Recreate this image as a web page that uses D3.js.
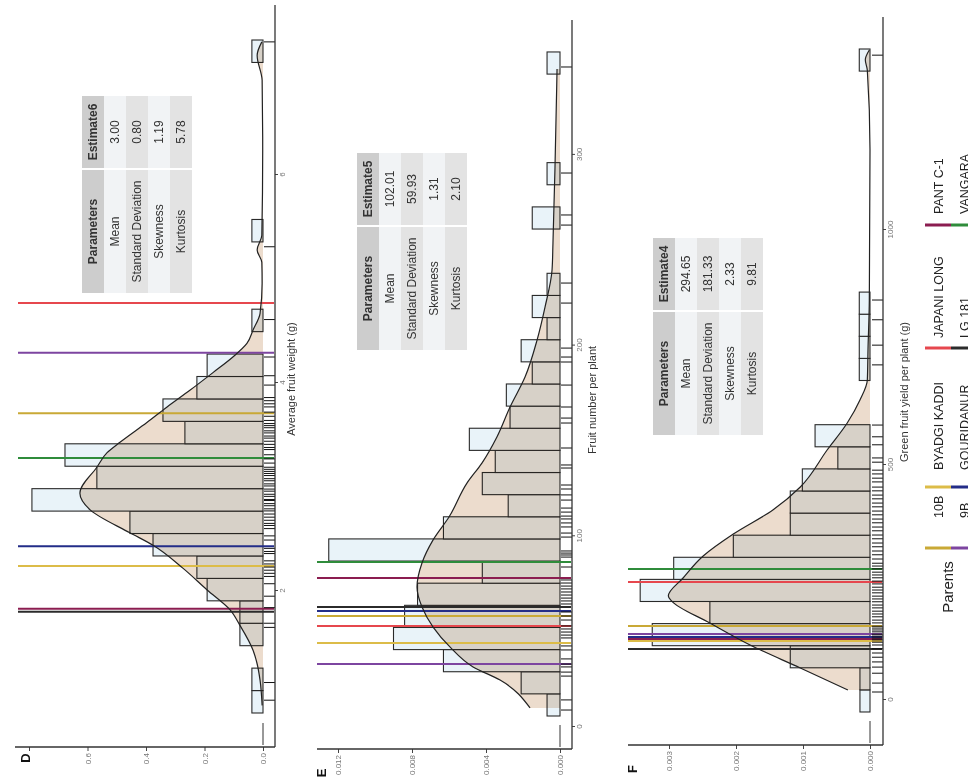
<!DOCTYPE html>
<html>
<head>
<meta charset="utf-8">
<script src="https://cdn.jsdelivr.net/npm/d3@7"></script>
<style>
  body { margin: 0; background: #fff; }
  svg { display: block; font-family: "Liberation Sans", Arial, sans-serif; }
</style>
</head>
<body>
<div id="chart"></div>
<script>
// parents shown as vertical reference lines
var parents = ['10B', '9B', 'BYADGI KADDI', 'GOURIDANUR', 'JAPANI LONG', 'LG 181', 'PANT C-1', 'VANGARA'];
var parentColors = ['#c9a936', '#7d45a0', '#dcbc48', '#232d88', '#e6474e', '#2b2b2b', '#8b1d50', '#2f8c3b'];
var statNames = ['Mean', 'Standard Deviation', 'Skewness', 'Kurtosis'];

// D - average fruit weight
var weightDensity = [0.038, 0.038, 0, 0.079, 0.079, 0.191, 0.226, 0.376, 0.455, 0.79, 0.568, 0.677, 0.267, 0.342, 0.226,
    0.191, 0, 0.038, 0, 0, 0, 0.038, 0, 0, 0, 0, 0, 0, 0, 0.038];
var weightBinStart = 0.827, weightBinWidth = 0.2157;
var weightCurve = [[0.90, 0.003], [1.14, 0.010], [1.31, 0.021], [1.43, 0.034], [1.67, 0.079], [1.82, 0.113], [2.01, 0.191],
    [2.22, 0.274], [2.44, 0.376], [2.56, 0.455], [2.78, 0.591], [2.94, 0.626], [3.19, 0.568], [3.33, 0.533], [3.43, 0.489],
    [3.62, 0.397], [3.77, 0.328], [3.93, 0.250], [4.10, 0.171], [4.25, 0.103], [4.38, 0.055], [4.51, 0.034], [4.67, 0.010],
    [4.96, 0.003], [5.16, 0.004], [5.28, 0.020], [5.42, 0.004], [6.24, 0.001], [6.91, 0.003], [7.15, 0.020], [7.28, 0.004]];
var weightRug = [0.95, 1.12, 1.65, 1.69, 1.84, 1.95, 2.07, 2.14, 2.17, 2.20, 2.23, 2.26, 2.29, 2.36, 2.38, 2.41, 2.49, 2.53,
    2.60, 2.63, 2.65, 2.68, 2.71, 2.74, 2.77, 2.79, 2.82, 2.84, 2.87, 2.88, 2.91, 2.93, 2.96, 2.98, 3.01, 3.03, 3.06, 3.08,
    3.11, 3.13, 3.15, 3.17, 3.19, 3.23, 3.27, 3.31, 3.36, 3.38, 3.41, 3.44, 3.47, 3.49, 3.52, 3.54, 3.57, 3.59, 3.61, 3.64,
    3.68, 3.72, 3.77, 3.80, 3.83, 3.86, 3.98, 4.07, 4.25, 4.61, 5.31, 7.28];
var weightParents = [3.71, 4.29, 2.24, 2.43, 4.77, 1.80, 1.83, 3.28];
var weightStats = ['3.00', '0.80', '1.19', '5.78'];
var weightTicks = [2, 4, 6];
var weightDensityTicks = [0, 0.2, 0.4, 0.6, 0.8];

// E - fruit number per plant
var numberDensity = [0.0007, 0.0021, 0.0063, 0.0090, 0.0084, 0.0077, 0.0042, 0.0125, 0.0063, 0.0028, 0.0042, 0.0035,
    0.0049, 0.0027, 0.0029, 0.0015, 0.0021, 0.0007, 0.0015, 0.0007, 0, 0, 0.0015, 0, 0.0007, 0, 0, 0, 0, 0.0007];
var numberBinStart = 5.77, numberBinWidth = 11.607;
var numberCurve = [[10.0, 0.00162], [24.6, 0.00324], [31.5, 0.00470], [42.0, 0.00595], [52.4, 0.00686], [62.9, 0.00746],
    [73.4, 0.00773], [86.0, 0.00746], [98.1, 0.00686], [110.1, 0.00600], [127.9, 0.00503], [138.4, 0.00422],
    [152.1, 0.00341], [167.8, 0.00270], [183.5, 0.00189], [202.9, 0.00124], [220.2, 0.00081], [239.6, 0.00043],
    [253.8, 0.00038], [293.7, 0.00027], [345.0, 0.00016]];
var numberRug = [8.9, 14.2, 26.7, 28.8, 31.5, 33.0, 35.7, 40.4, 42.5, 46.7, 48.2, 49.8, 51.4, 53.0, 56.1, 58.2, 60.3, 64.5,
    66.1, 67.6, 69.2, 70.8, 72.4, 73.9, 75.5, 77.1, 83.9, 89.1, 90.2, 91.2, 92.3, 99.6, 101.7, 104.9, 107.0, 109.1, 110.6,
    112.7, 114.8, 119.0, 121.7, 124.8, 126.9, 135.8, 137.4, 146.3, 159.4, 162.0, 167.8, 179.3, 191.4, 194.0, 198.7,
    222.3, 232.8, 263.2, 268.5, 290.5, 346.1];
var numberParents = [58.2, 33.0, 44.0, 60.8, 53.0, 62.9, 78.1, 86.5];
var numberStats = ['102.01', '59.93', '1.31', '2.10'];
var numberTicks = [0, 100, 200, 300];
var numberDensityTicks = [0, 0.004, 0.008, 0.012];

// F - green fruit yield per plant
var yieldDensity = [0.00015, 0.00015, 0.00119, 0.00325, 0.00239, 0.00343, 0.00293, 0.00204, 0.00119, 0.00119, 0.00101,
    0.00048, 0.00082, 0, 0, 0.00016, 0.00016, 0.00016, 0.00016, 0, 0, 0, 0, 0, 0, 0, 0, 0, 0, 0.00016];
var yieldBinStart = -25.5, yieldBinWidth = 47.02;
var yieldCurve = [[21.3, 0.00033], [68.1, 0.00104], [117.0, 0.00179], [163.8, 0.00239], [210.6, 0.00296], [221.3, 0.00301],
    [259.6, 0.00279], [306.4, 0.00249], [353.2, 0.00204], [404.3, 0.00145], [453.2, 0.00104], [531.9, 0.00064],
    [589.4, 0.00034], [638.3, 0.00015], [680.9, 0.00004], [744.7, 0.00003], [851.1, 0.00001], [1170, 0], [1340, 0.00004],
    [1362, 0.00007], [1383, 0.00001]];
var yieldRug = [17, 36, 57, 70, 81, 91, 100, 109, 117, 123, 128, 132, 136, 140, 145, 149, 153, 157, 164, 170, 177, 183, 189,
    196, 202, 209, 215, 221, 228, 234, 240, 247, 253, 260, 266, 272, 279, 285, 291, 300, 309, 317, 326, 334, 343, 351,
    360, 368, 377, 385, 394, 402, 411, 419, 428, 436, 445, 453, 464, 472, 481, 489, 506, 515, 543, 560, 585, 713, 755,
    809, 851, 1372];
var yieldParents = [157.4, 140.4, 125.5, 134.0, 251.1, 108.5, 129.8, 278.7];
var yieldStats = ['294.65', '181.33', '2.33', '9.81'];
var yieldTicks = [0, 500, 1000];
var yieldDensityTicks = [0, 0.001, 0.002, 0.003];

// the figure is drawn upright (780 wide, 968 tall) and turned a quarter left
var svg = d3.select('#chart').append('svg')
    .attr('width', 968)
    .attr('height', 780);

var g = svg.append('g')
    .attr('transform', 'translate(0,780) rotate(-90)');

var panels = [
    {
        label: 'D', density: weightDensity, binStart: weightBinStart, binWidth: weightBinWidth, curve: weightCurve,
        rug: weightRug, parentVals: weightParents, stats: weightStats, header: 'Estimate6',
        title: 'Average fruit weight (g)', xTicks: weightTicks, yTicks: weightDensityTicks, fmt: '.1f',
        xDomain: [2, 6], xRange: [189, 605], yDomain: [0, 0.8], yRange: [263, 29],
        base: 275, left: 33, xEnd: 775, top: 15, lineTop: 18, labelX: 22, labelY: 30,
        titleX: 401, titleDy: 20, table: [487, 82], hideTop: true
    },
    {
        label: 'E', density: numberDensity, binStart: numberBinStart, binWidth: numberBinWidth, curve: numberCurve,
        rug: numberRug, parentVals: numberParents, stats: numberStats, header: 'Estimate5',
        title: 'Fruit number per plant', xTicks: numberTicks, yTicks: numberDensityTicks, fmt: '.3f',
        xDomain: [0, 300], xRange: [53, 625.1], yDomain: [0, 0.012], yRange: [560, 338],
        base: 572, left: 31, xEnd: 760, top: 317, lineTop: 317, labelX: 7, labelY: 326,
        titleX: 380, titleDy: 24, table: [430, 357], hideTop: false
    },
    {
        label: 'F', density: yieldDensity, binStart: yieldBinStart, binWidth: yieldBinWidth, curve: yieldCurve,
        rug: yieldRug, parentVals: yieldParents, stats: yieldStats, header: 'Estimate4',
        title: 'Green fruit yield per plant (g)', xTicks: yieldTicks, yTicks: yieldDensityTicks, fmt: '.3f',
        xDomain: [0, 1000], xRange: [80, 550], yDomain: [0, 0.003], yRange: [870, 669],
        base: 883, left: 35, xEnd: 763, top: 628, lineTop: 628, labelX: 11, labelY: 637,
        titleX: 388, titleDy: 25, table: [345, 653], hideTop: false
    }
];

panels.forEach(function (p) {
    var x = d3.scaleLinear().domain(p.xDomain).range(p.xRange);
    var y = d3.scaleLinear().domain(p.yDomain).range(p.yRange);
    var pg = g.append('g');

    // histogram
    var bars = p.density.map(function (d, i) {
        return { x0: p.binStart + i * p.binWidth, x1: p.binStart + (i + 1) * p.binWidth, d: d };
    }).filter(function (b) { return b.d > 0; });

    pg.selectAll('rect.bar')
        .data(bars)
        .join('rect')
        .attr('class', 'bar')
        .attr('x', function (b) { return x(b.x0); })
        .attr('width', function (b) { return x(b.x1) - x(b.x0); })
        .attr('y', function (b) { return y(b.d); })
        .attr('height', function (b) { return y(0) - y(b.d); })
        .attr('fill', '#e9f3f9')
        .attr('stroke', '#2a2a2a')
        .attr('stroke-width', 1.1);

    // density area, blended over the bars
    var area = d3.area()
        .x(function (c) { return x(c[0]); })
        .y0(y(0))
        .y1(function (c) { return y(c[1]); })
        .curve(d3.curveMonotoneX);

    pg.append('path')
        .datum(p.curve)
        .attr('d', area)
        .attr('fill', '#ecdccd')
        .style('mix-blend-mode', 'multiply');

    // parent reference lines
    pg.selectAll('line.parent')
        .data(p.parentVals)
        .join('line')
        .attr('class', 'parent')
        .attr('x1', function (v) { return x(v); })
        .attr('x2', function (v) { return x(v); })
        .attr('y1', p.lineTop)
        .attr('y2', p.base - 1)
        .attr('stroke', function (v, i) { return parentColors[i]; })
        .attr('stroke-width', 2);

    var line = d3.line()
        .x(function (c) { return x(c[0]); })
        .y(function (c) { return y(c[1]); })
        .curve(d3.curveMonotoneX);

    pg.append('path')
        .datum(p.curve)
        .attr('d', line)
        .attr('fill', 'none')
        .attr('stroke', '#222')
        .attr('stroke-width', 1.2);

    // short zero segment at the start of the axis
    pg.append('line')
        .attr('x1', p.left + 2).attr('x2', p.left + 24)
        .attr('y1', y(0)).attr('y2', y(0))
        .attr('stroke', '#333').attr('stroke-width', 1);

    // rug
    pg.selectAll('line.rug')
        .data(p.rug)
        .join('line')
        .attr('class', 'rug')
        .attr('x1', function (v) { return x(v); })
        .attr('x2', function (v) { return x(v); })
        .attr('y1', p.base - 11)
        .attr('y2', p.base)
        .attr('stroke', '#111')
        .attr('stroke-width', 1);

    // axes
    var xAxis = pg.append('g')
        .attr('transform', 'translate(0,' + p.base + ')')
        .call(d3.axisBottom(x).tickValues(p.xTicks).tickFormat(d3.format('d')).tickSize(3).tickPadding(1));
    xAxis.select('.domain').remove();
    xAxis.selectAll('line').attr('stroke', '#444');
    xAxis.selectAll('text').attr('font-size', 8).attr('fill', '#777').attr('font-family', null);

    var yAxis = pg.append('g')
        .attr('transform', 'translate(' + p.left + ',0)')
        .call(d3.axisLeft(y).tickValues(p.yTicks).tickFormat(d3.format(p.fmt)).tickSize(4).tickPadding(2));
    yAxis.select('.domain').remove();
    yAxis.selectAll('line').attr('stroke', '#444');
    yAxis.selectAll('text').attr('font-size', 8).attr('fill', '#777').attr('font-family', null);
    if (p.hideTop) {
        yAxis.selectAll('text').filter(function (d) { return d === p.yTicks[p.yTicks.length - 1]; }).remove();
    }

    pg.append('line')
        .attr('x1', p.left).attr('x2', p.xEnd)
        .attr('y1', p.base).attr('y2', p.base)
        .attr('stroke', '#333').attr('stroke-width', 1.3);
    pg.append('line')
        .attr('x1', p.left).attr('x2', p.left)
        .attr('y1', p.top).attr('y2', p.base)
        .attr('stroke', '#333').attr('stroke-width', 1.3);

    pg.append('text')
        .attr('x', p.titleX)
        .attr('y', p.base + p.titleDy)
        .attr('text-anchor', 'middle')
        .attr('font-size', 11)
        .attr('fill', '#333')
        .text(p.title);

    pg.append('text')
        .attr('x', p.labelX)
        .attr('y', p.labelY)
        .attr('text-anchor', 'middle')
        .attr('font-size', 13)
        .attr('font-weight', 'bold')
        .attr('fill', '#111')
        .text(p.label);

    drawTable(p.table, p.header, p.stats);
});

function drawTable(pos, header, stats) {
    var paramW = 123, estW = 72, rowH = 22;
    var tg = g.append('g').attr('transform', 'translate(' + pos[0] + ',' + pos[1] + ')');
    var rows = [['Parameters', header]].concat(statNames.map(function (n, i) { return [n, stats[i]]; }));

    rows.forEach(function (r, i) {
        var fill = i === 0 ? '#cdcdcd' : (i % 2 ? '#f1f3f5' : '#e3e3e3');
        var yy = i * rowH;
        tg.append('rect').attr('x', 0).attr('y', yy).attr('width', paramW).attr('height', rowH).attr('fill', fill);
        tg.append('rect').attr('x', paramW + 2).attr('y', yy).attr('width', estW).attr('height', rowH).attr('fill', fill);
        tg.append('text')
            .attr('x', paramW / 2).attr('y', yy + rowH / 2 + 4)
            .attr('text-anchor', 'middle')
            .attr('font-size', 12)
            .attr('font-weight', i === 0 ? 'bold' : 'normal')
            .attr('fill', '#333')
            .text(r[0]);
        tg.append('text')
            .attr('x', paramW + 2 + estW / 2).attr('y', yy + rowH / 2 + 4)
            .attr('text-anchor', 'middle')
            .attr('font-size', 12)
            .attr('font-weight', i === 0 ? 'bold' : 'normal')
            .attr('fill', '#333')
            .text(r[1]);
    });
}

// legend at the foot of the upright figure
var legendKeyX = [232, 293, 432, 555];
var legendLabelX = [262, 310, 442, 566];
var legendRowY = [[925, 951], [951, 977]];
var lg = g.append('g');

lg.append('text')
    .attr('x', 193)
    .attr('y', 953)
    .attr('text-anchor', 'middle')
    .attr('font-size', 15)
    .attr('fill', '#222')
    .text('Parents');

parents.forEach(function (name, i) {
    var col = Math.floor(i / 2), row = i % 2;
    lg.append('line')
        .attr('x1', legendKeyX[col]).attr('x2', legendKeyX[col])
        .attr('y1', legendRowY[row][0]).attr('y2', legendRowY[row][1])
        .attr('stroke', parentColors[i])
        .attr('stroke-width', 3);
    lg.append('text')
        .attr('x', legendLabelX[col])
        .attr('y', (legendRowY[row][0] + legendRowY[row][1]) / 2 + 5)
        .attr('font-size', 12.5)
        .attr('fill', '#222')
        .text(name);
});
</script>
</body>
</html>
